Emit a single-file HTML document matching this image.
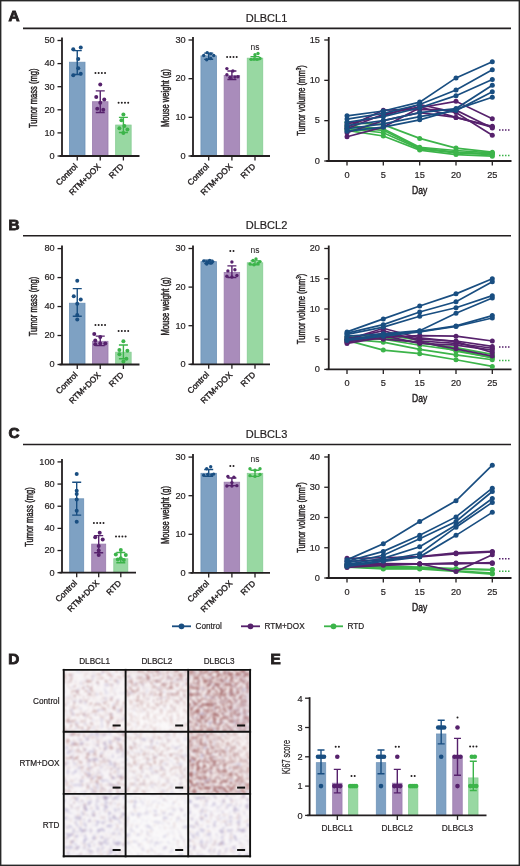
<!DOCTYPE html>
<html><head><meta charset="utf-8"><style>
html,body{margin:0;padding:0;background:#fff;width:520px;height:866px;overflow:hidden}
svg{display:block;filter:blur(0.45px)}
</style></head><body>
<svg width="520" height="866" viewBox="0 0 520 866" font-family='"Liberation Sans", sans-serif' fill="#231f20">
<style>text{stroke:#231f20;stroke-width:0.2}</style>
<rect x="0" y="0" width="520" height="866" fill="#fff"/>
<text x="8.5" y="21.20" font-size="15.3" font-weight="bold" stroke="#231f20" style="stroke-width:0.9">A</text>
<line x1="23" y1="28.3" x2="511" y2="28.3" stroke="#231f20" stroke-width="1.7"/>
<text x="266.50" y="21.50" font-size="11" text-anchor="middle" >DLBCL1</text>
<rect x="69.50" y="62.21" width="15.5" height="93.79" fill="#7ea1c3" stroke="#6d92b7" stroke-width="0.8"/>
<path d="M72.75 50.66h9M77.25 50.66V74.46M72.75 74.46h9" stroke="#194e81" stroke-width="1.4" fill="none"/>
<circle cx="73.25" cy="49.28" r="2.0" fill="#194e81"/>
<circle cx="80.75" cy="47.43" r="2.0" fill="#194e81"/>
<circle cx="78.25" cy="58.98" r="2.0" fill="#194e81"/>
<circle cx="78.25" cy="68.22" r="2.0" fill="#194e81"/>
<circle cx="73.25" cy="75.15" r="2.0" fill="#194e81"/>
<circle cx="80.75" cy="73.76" r="2.0" fill="#194e81"/>
<rect x="92.50" y="101.72" width="15.5" height="54.28" fill="#a98cbb" stroke="#9a7cad" stroke-width="0.8"/>
<path d="M95.75 90.86h9M100.25 90.86V112.57M95.75 112.57h9" stroke="#56216c" stroke-width="1.4" fill="none"/>
<circle cx="100.25" cy="84.39" r="2.0" fill="#56216c"/>
<circle cx="96.25" cy="97.09" r="2.0" fill="#56216c"/>
<circle cx="104.25" cy="99.41" r="2.0" fill="#56216c"/>
<circle cx="97.25" cy="108.64" r="2.0" fill="#56216c"/>
<circle cx="103.25" cy="109.80" r="2.0" fill="#56216c"/>
<circle cx="100.25" cy="102.87" r="2.0" fill="#56216c"/>
<rect x="115.65" y="125.05" width="15.5" height="30.95" fill="#98d8a2" stroke="#86cc92" stroke-width="0.8"/>
<path d="M118.90 117.42h9M123.40 117.42V132.44M118.90 132.44h9" stroke="#3cb44a" stroke-width="1.4" fill="none"/>
<circle cx="123.40" cy="114.42" r="2.0" fill="#3cb44a"/>
<circle cx="121.40" cy="120.19" r="2.0" fill="#3cb44a"/>
<circle cx="119.40" cy="128.28" r="2.0" fill="#3cb44a"/>
<circle cx="127.40" cy="129.44" r="2.0" fill="#3cb44a"/>
<circle cx="123.40" cy="132.90" r="2.0" fill="#3cb44a"/>
<circle cx="124.40" cy="125.97" r="2.0" fill="#3cb44a"/>
<line x1="62" y1="37.5" x2="62" y2="156" stroke="#231f20" stroke-width="1.8"/>
<line x1="57.5" y1="156.00" x2="62" y2="156.00" stroke="#231f20" stroke-width="1.3"/>
<text x="54.70" y="158.80" font-size="9.2" text-anchor="end" >0</text>
<line x1="57.5" y1="132.90" x2="62" y2="132.90" stroke="#231f20" stroke-width="1.3"/>
<text x="54.70" y="135.70" font-size="9.2" text-anchor="end" >10</text>
<line x1="57.5" y1="109.80" x2="62" y2="109.80" stroke="#231f20" stroke-width="1.3"/>
<text x="54.70" y="112.60" font-size="9.2" text-anchor="end" >20</text>
<line x1="57.5" y1="86.70" x2="62" y2="86.70" stroke="#231f20" stroke-width="1.3"/>
<text x="54.70" y="89.50" font-size="9.2" text-anchor="end" >30</text>
<line x1="57.5" y1="63.60" x2="62" y2="63.60" stroke="#231f20" stroke-width="1.3"/>
<text x="54.70" y="66.40" font-size="9.2" text-anchor="end" >40</text>
<line x1="57.5" y1="40.50" x2="62" y2="40.50" stroke="#231f20" stroke-width="1.3"/>
<text x="54.70" y="43.30" font-size="9.2" text-anchor="end" >50</text>
<g transform="translate(37.00,98.25) rotate(-90) scale(0.69,1)"><text x="0" y="0" font-size="11" text-anchor="middle" style="stroke-width:0.45">Tumor mass (mg)</text></g>
<line x1="59.5" y1="156" x2="139.5" y2="156" stroke="#231f20" stroke-width="1.8"/>
<line x1="77.25" y1="156" x2="77.25" y2="160.5" stroke="#231f20" stroke-width="1.3"/>
<g transform="translate(78.15,167.00) rotate(-45)"><text x="0" y="0" font-size="8.3" text-anchor="end" style="stroke-width:0.38">Control</text></g>
<line x1="100.25" y1="156" x2="100.25" y2="160.5" stroke="#231f20" stroke-width="1.3"/>
<g transform="translate(101.15,167.00) rotate(-45)"><text x="0" y="0" font-size="8.3" text-anchor="end" style="stroke-width:0.38">RTM+DOX</text></g>
<line x1="123.4" y1="156" x2="123.4" y2="160.5" stroke="#231f20" stroke-width="1.3"/>
<g transform="translate(124.30,167.00) rotate(-45)"><text x="0" y="0" font-size="8.3" text-anchor="end" style="stroke-width:0.38">RTD</text></g>
<path d="M95.45 72.90h0M98.65 72.90h0M101.85 72.90h0M105.05 72.90h0" stroke="#231f20" stroke-width="2.0" stroke-linecap="round" fill="none"/>
<path d="M118.60 102.70h0M121.80 102.70h0M125.00 102.70h0M128.20 102.70h0" stroke="#231f20" stroke-width="2.0" stroke-linecap="round" fill="none"/>
<rect x="200.95" y="55.85" width="15.5" height="100.15" fill="#7ea1c3" stroke="#6d92b7" stroke-width="0.8"/>
<path d="M204.20 53.15h9M208.70 53.15V59.33M204.20 59.33h9" stroke="#194e81" stroke-width="1.4" fill="none"/>
<circle cx="203.70" cy="55.47" r="1.7" fill="#194e81"/>
<circle cx="207.20" cy="52.76" r="1.7" fill="#194e81"/>
<circle cx="210.70" cy="53.92" r="1.7" fill="#194e81"/>
<circle cx="213.70" cy="55.47" r="1.7" fill="#194e81"/>
<circle cx="206.70" cy="59.72" r="1.7" fill="#194e81"/>
<circle cx="210.70" cy="58.56" r="1.7" fill="#194e81"/>
<rect x="224.15" y="75.57" width="15.5" height="80.43" fill="#a98cbb" stroke="#9a7cad" stroke-width="0.8"/>
<path d="M227.40 70.93h9M231.90 70.93V79.44M227.40 79.44h9" stroke="#56216c" stroke-width="1.4" fill="none"/>
<circle cx="226.90" cy="68.61" r="1.7" fill="#56216c"/>
<circle cx="232.90" cy="70.93" r="1.7" fill="#56216c"/>
<circle cx="226.90" cy="74.80" r="1.7" fill="#56216c"/>
<circle cx="229.90" cy="77.51" r="1.7" fill="#56216c"/>
<circle cx="234.90" cy="77.12" r="1.7" fill="#56216c"/>
<circle cx="237.90" cy="76.73" r="1.7" fill="#56216c"/>
<rect x="247.25" y="58.17" width="15.5" height="97.83" fill="#98d8a2" stroke="#86cc92" stroke-width="0.8"/>
<path d="M250.50 56.63h9M255.00 56.63V59.72M250.50 59.72h9" stroke="#3cb44a" stroke-width="1.4" fill="none"/>
<circle cx="251.00" cy="59.33" r="1.7" fill="#3cb44a"/>
<circle cx="255.00" cy="54.69" r="1.7" fill="#3cb44a"/>
<circle cx="258.00" cy="53.53" r="1.7" fill="#3cb44a"/>
<circle cx="260.00" cy="58.56" r="1.7" fill="#3cb44a"/>
<circle cx="254.00" cy="58.95" r="1.7" fill="#3cb44a"/>
<circle cx="257.00" cy="59.33" r="1.7" fill="#3cb44a"/>
<line x1="193.0" y1="37" x2="193.0" y2="156" stroke="#231f20" stroke-width="1.8"/>
<line x1="188.5" y1="156.00" x2="193.0" y2="156.00" stroke="#231f20" stroke-width="1.3"/>
<text x="185.70" y="158.80" font-size="9.2" text-anchor="end" >0</text>
<line x1="188.5" y1="117.33" x2="193.0" y2="117.33" stroke="#231f20" stroke-width="1.3"/>
<text x="185.70" y="120.13" font-size="9.2" text-anchor="end" >10</text>
<line x1="188.5" y1="78.67" x2="193.0" y2="78.67" stroke="#231f20" stroke-width="1.3"/>
<text x="185.70" y="81.47" font-size="9.2" text-anchor="end" >20</text>
<line x1="188.5" y1="40.00" x2="193.0" y2="40.00" stroke="#231f20" stroke-width="1.3"/>
<text x="185.70" y="42.80" font-size="9.2" text-anchor="end" >30</text>
<g transform="translate(169.00,98.00) rotate(-90) scale(0.69,1)"><text x="0" y="0" font-size="11" text-anchor="middle" style="stroke-width:0.45">Mouse weight (g)</text></g>
<line x1="190.5" y1="156" x2="270" y2="156" stroke="#231f20" stroke-width="1.8"/>
<line x1="208.7" y1="156" x2="208.7" y2="160.5" stroke="#231f20" stroke-width="1.3"/>
<g transform="translate(209.60,167.00) rotate(-45)"><text x="0" y="0" font-size="8.3" text-anchor="end" style="stroke-width:0.38">Control</text></g>
<line x1="231.9" y1="156" x2="231.9" y2="160.5" stroke="#231f20" stroke-width="1.3"/>
<g transform="translate(232.80,167.00) rotate(-45)"><text x="0" y="0" font-size="8.3" text-anchor="end" style="stroke-width:0.38">RTM+DOX</text></g>
<line x1="255.0" y1="156" x2="255.0" y2="160.5" stroke="#231f20" stroke-width="1.3"/>
<g transform="translate(255.90,167.00) rotate(-45)"><text x="0" y="0" font-size="8.3" text-anchor="end" style="stroke-width:0.38">RTD</text></g>
<path d="M227.10 56.90h0M230.30 56.90h0M233.50 56.90h0M236.70 56.90h0" stroke="#231f20" stroke-width="2.0" stroke-linecap="round" fill="none"/>
<text x="255.00" y="49.50" font-size="8.5" text-anchor="middle" style="stroke-width:0.05">ns</text>
<line x1="328.75" y1="37" x2="328.75" y2="161" stroke="#231f20" stroke-width="1.8"/>
<line x1="324.25" y1="161.00" x2="328.75" y2="161.00" stroke="#231f20" stroke-width="1.3"/>
<text x="319.95" y="163.80" font-size="9.2" text-anchor="end" >0</text>
<line x1="324.25" y1="120.67" x2="328.75" y2="120.67" stroke="#231f20" stroke-width="1.3"/>
<text x="319.95" y="123.47" font-size="9.2" text-anchor="end" >5</text>
<line x1="324.25" y1="80.33" x2="328.75" y2="80.33" stroke="#231f20" stroke-width="1.3"/>
<text x="319.95" y="83.13" font-size="9.2" text-anchor="end" >10</text>
<line x1="324.25" y1="40.00" x2="328.75" y2="40.00" stroke="#231f20" stroke-width="1.3"/>
<text x="319.95" y="42.80" font-size="9.2" text-anchor="end" >15</text>
<g transform="translate(305.25,100.50) rotate(-90) scale(0.69,1)"><text x="0" y="0" font-size="11" text-anchor="middle" style="stroke-width:0.45">Tumor volume (mm<tspan font-size="6.5" dy="-4">3</tspan><tspan dy="4">)</tspan></text></g>
<line x1="326.25" y1="161" x2="511.5" y2="161" stroke="#231f20" stroke-width="1.8"/>
<line x1="347" y1="161" x2="347" y2="165.5" stroke="#231f20" stroke-width="1.3"/>
<text x="347.00" y="177.50" font-size="9.2" text-anchor="middle" >0</text>
<line x1="383.3" y1="161" x2="383.3" y2="165.5" stroke="#231f20" stroke-width="1.3"/>
<text x="383.30" y="177.50" font-size="9.2" text-anchor="middle" >5</text>
<line x1="419.7" y1="161" x2="419.7" y2="165.5" stroke="#231f20" stroke-width="1.3"/>
<text x="419.70" y="177.50" font-size="9.2" text-anchor="middle" >15</text>
<line x1="456" y1="161" x2="456" y2="165.5" stroke="#231f20" stroke-width="1.3"/>
<text x="456.00" y="177.50" font-size="9.2" text-anchor="middle" >20</text>
<line x1="492.3" y1="161" x2="492.3" y2="165.5" stroke="#231f20" stroke-width="1.3"/>
<text x="492.30" y="177.50" font-size="9.2" text-anchor="middle" >25</text>
<g transform="translate(419.7,194.00) scale(0.78,1)"><text x="0" y="0" font-size="11" text-anchor="middle" style="stroke-width:0.45">Day</text></g>
<polyline points="347.00,122.28 383.30,124.70 419.70,138.41 456.00,148.09 492.30,152.13" fill="none" stroke="#3cb44a" stroke-width="1.7"/>
<circle cx="347.00" cy="122.28" r="2.5" fill="#3cb44a"/>
<circle cx="383.30" cy="124.70" r="2.5" fill="#3cb44a"/>
<circle cx="419.70" cy="138.41" r="2.5" fill="#3cb44a"/>
<circle cx="456.00" cy="148.09" r="2.5" fill="#3cb44a"/>
<circle cx="492.30" cy="152.13" r="2.5" fill="#3cb44a"/>
<polyline points="347.00,125.51 383.30,128.73 419.70,147.29 456.00,150.51 492.30,152.93" fill="none" stroke="#3cb44a" stroke-width="1.7"/>
<circle cx="347.00" cy="125.51" r="2.5" fill="#3cb44a"/>
<circle cx="383.30" cy="128.73" r="2.5" fill="#3cb44a"/>
<circle cx="419.70" cy="147.29" r="2.5" fill="#3cb44a"/>
<circle cx="456.00" cy="150.51" r="2.5" fill="#3cb44a"/>
<circle cx="492.30" cy="152.93" r="2.5" fill="#3cb44a"/>
<polyline points="347.00,128.73 383.30,132.77 419.70,148.90 456.00,152.93 492.30,154.55" fill="none" stroke="#3cb44a" stroke-width="1.7"/>
<circle cx="347.00" cy="128.73" r="2.5" fill="#3cb44a"/>
<circle cx="383.30" cy="132.77" r="2.5" fill="#3cb44a"/>
<circle cx="419.70" cy="148.90" r="2.5" fill="#3cb44a"/>
<circle cx="456.00" cy="152.93" r="2.5" fill="#3cb44a"/>
<circle cx="492.30" cy="154.55" r="2.5" fill="#3cb44a"/>
<polyline points="347.00,130.35 383.30,135.99 419.70,150.11 456.00,154.55 492.30,156.16" fill="none" stroke="#3cb44a" stroke-width="1.7"/>
<circle cx="347.00" cy="130.35" r="2.5" fill="#3cb44a"/>
<circle cx="383.30" cy="135.99" r="2.5" fill="#3cb44a"/>
<circle cx="419.70" cy="150.11" r="2.5" fill="#3cb44a"/>
<circle cx="456.00" cy="154.55" r="2.5" fill="#3cb44a"/>
<circle cx="492.30" cy="156.16" r="2.5" fill="#3cb44a"/>
<polyline points="347.00,127.12 383.30,130.35 419.70,148.09 456.00,152.13 492.30,153.74" fill="none" stroke="#3cb44a" stroke-width="1.7"/>
<circle cx="347.00" cy="127.12" r="2.5" fill="#3cb44a"/>
<circle cx="383.30" cy="130.35" r="2.5" fill="#3cb44a"/>
<circle cx="419.70" cy="148.09" r="2.5" fill="#3cb44a"/>
<circle cx="456.00" cy="152.13" r="2.5" fill="#3cb44a"/>
<circle cx="492.30" cy="153.74" r="2.5" fill="#3cb44a"/>
<polyline points="347.00,136.80 383.30,127.12 419.70,107.76 456.00,101.31 492.30,118.65" fill="none" stroke="#56216c" stroke-width="1.7"/>
<circle cx="347.00" cy="136.80" r="2.5" fill="#56216c"/>
<circle cx="383.30" cy="127.12" r="2.5" fill="#56216c"/>
<circle cx="419.70" cy="107.76" r="2.5" fill="#56216c"/>
<circle cx="456.00" cy="101.31" r="2.5" fill="#56216c"/>
<circle cx="492.30" cy="118.65" r="2.5" fill="#56216c"/>
<polyline points="347.00,132.77 383.30,120.67 419.70,112.60 456.00,117.44 492.30,126.31" fill="none" stroke="#56216c" stroke-width="1.7"/>
<circle cx="347.00" cy="132.77" r="2.5" fill="#56216c"/>
<circle cx="383.30" cy="120.67" r="2.5" fill="#56216c"/>
<circle cx="419.70" cy="112.60" r="2.5" fill="#56216c"/>
<circle cx="456.00" cy="117.44" r="2.5" fill="#56216c"/>
<circle cx="492.30" cy="126.31" r="2.5" fill="#56216c"/>
<polyline points="347.00,127.12 383.30,110.18 419.70,109.37 456.00,110.18 492.30,127.93" fill="none" stroke="#56216c" stroke-width="1.7"/>
<circle cx="347.00" cy="127.12" r="2.5" fill="#56216c"/>
<circle cx="383.30" cy="110.18" r="2.5" fill="#56216c"/>
<circle cx="419.70" cy="109.37" r="2.5" fill="#56216c"/>
<circle cx="456.00" cy="110.18" r="2.5" fill="#56216c"/>
<circle cx="492.30" cy="127.93" r="2.5" fill="#56216c"/>
<polyline points="347.00,123.89 383.30,115.83 419.70,104.53 456.00,112.60 492.30,135.19" fill="none" stroke="#56216c" stroke-width="1.7"/>
<circle cx="347.00" cy="123.89" r="2.5" fill="#56216c"/>
<circle cx="383.30" cy="115.83" r="2.5" fill="#56216c"/>
<circle cx="419.70" cy="104.53" r="2.5" fill="#56216c"/>
<circle cx="456.00" cy="112.60" r="2.5" fill="#56216c"/>
<circle cx="492.30" cy="135.19" r="2.5" fill="#56216c"/>
<polyline points="347.00,128.73 383.30,114.21 419.70,106.95 456.00,117.44 492.30,127.12" fill="none" stroke="#56216c" stroke-width="1.7"/>
<circle cx="347.00" cy="128.73" r="2.5" fill="#56216c"/>
<circle cx="383.30" cy="114.21" r="2.5" fill="#56216c"/>
<circle cx="419.70" cy="106.95" r="2.5" fill="#56216c"/>
<circle cx="456.00" cy="117.44" r="2.5" fill="#56216c"/>
<circle cx="492.30" cy="127.12" r="2.5" fill="#56216c"/>
<polyline points="347.00,115.83 383.30,110.99 419.70,102.11 456.00,77.91 492.30,61.78" fill="none" stroke="#194e81" stroke-width="1.7"/>
<circle cx="347.00" cy="115.83" r="2.5" fill="#194e81"/>
<circle cx="383.30" cy="110.99" r="2.5" fill="#194e81"/>
<circle cx="419.70" cy="102.11" r="2.5" fill="#194e81"/>
<circle cx="456.00" cy="77.91" r="2.5" fill="#194e81"/>
<circle cx="492.30" cy="61.78" r="2.5" fill="#194e81"/>
<polyline points="347.00,119.05 383.30,113.41 419.70,104.53 456.00,90.01 492.30,69.85" fill="none" stroke="#194e81" stroke-width="1.7"/>
<circle cx="347.00" cy="119.05" r="2.5" fill="#194e81"/>
<circle cx="383.30" cy="113.41" r="2.5" fill="#194e81"/>
<circle cx="419.70" cy="104.53" r="2.5" fill="#194e81"/>
<circle cx="456.00" cy="90.01" r="2.5" fill="#194e81"/>
<circle cx="492.30" cy="69.85" r="2.5" fill="#194e81"/>
<polyline points="347.00,122.28 383.30,116.63 419.70,107.76 456.00,95.66 492.30,79.53" fill="none" stroke="#194e81" stroke-width="1.7"/>
<circle cx="347.00" cy="122.28" r="2.5" fill="#194e81"/>
<circle cx="383.30" cy="116.63" r="2.5" fill="#194e81"/>
<circle cx="419.70" cy="107.76" r="2.5" fill="#194e81"/>
<circle cx="456.00" cy="95.66" r="2.5" fill="#194e81"/>
<circle cx="492.30" cy="79.53" r="2.5" fill="#194e81"/>
<polyline points="347.00,125.51 383.30,120.67 419.70,112.60 456.00,108.57 492.30,85.17" fill="none" stroke="#194e81" stroke-width="1.7"/>
<circle cx="347.00" cy="125.51" r="2.5" fill="#194e81"/>
<circle cx="383.30" cy="120.67" r="2.5" fill="#194e81"/>
<circle cx="419.70" cy="112.60" r="2.5" fill="#194e81"/>
<circle cx="456.00" cy="108.57" r="2.5" fill="#194e81"/>
<circle cx="492.30" cy="85.17" r="2.5" fill="#194e81"/>
<polyline points="347.00,128.73 383.30,123.89 419.70,116.63 456.00,110.58 492.30,91.63" fill="none" stroke="#194e81" stroke-width="1.7"/>
<circle cx="347.00" cy="128.73" r="2.5" fill="#194e81"/>
<circle cx="383.30" cy="123.89" r="2.5" fill="#194e81"/>
<circle cx="419.70" cy="116.63" r="2.5" fill="#194e81"/>
<circle cx="456.00" cy="110.58" r="2.5" fill="#194e81"/>
<circle cx="492.30" cy="91.63" r="2.5" fill="#194e81"/>
<polyline points="347.00,131.15 383.30,127.12 419.70,119.86 456.00,109.37 492.30,97.27" fill="none" stroke="#194e81" stroke-width="1.7"/>
<circle cx="347.00" cy="131.15" r="2.5" fill="#194e81"/>
<circle cx="383.30" cy="127.12" r="2.5" fill="#194e81"/>
<circle cx="419.70" cy="119.86" r="2.5" fill="#194e81"/>
<circle cx="456.00" cy="109.37" r="2.5" fill="#194e81"/>
<circle cx="492.30" cy="97.27" r="2.5" fill="#194e81"/>
<path d="M499 130h11.5" stroke="#56216c" stroke-width="1.5" stroke-dasharray="1.5,1.5" fill="none"/><path d="M499 155.6h11.5" stroke="#3cb44a" stroke-width="1.5" stroke-dasharray="1.5,1.5" fill="none"/>
<text x="8.5" y="230.10" font-size="15.3" font-weight="bold" stroke="#231f20" style="stroke-width:0.9">B</text>
<line x1="23" y1="235.75" x2="511" y2="235.75" stroke="#231f20" stroke-width="1.7"/>
<text x="266.50" y="228.95" font-size="11" text-anchor="middle" >DLBCL2</text>
<rect x="69.50" y="303.22" width="15.5" height="61.28" fill="#7ea1c3" stroke="#6d92b7" stroke-width="0.8"/>
<path d="M72.75 288.59h9M77.25 288.59V316.26M72.75 316.26h9" stroke="#194e81" stroke-width="1.4" fill="none"/>
<circle cx="77.25" cy="280.76" r="2.0" fill="#194e81"/>
<circle cx="73.75" cy="296.26" r="2.0" fill="#194e81"/>
<circle cx="80.75" cy="299.45" r="2.0" fill="#194e81"/>
<circle cx="77.25" cy="303.80" r="2.0" fill="#194e81"/>
<circle cx="77.25" cy="315.10" r="2.0" fill="#194e81"/>
<circle cx="77.25" cy="319.59" r="2.0" fill="#194e81"/>
<rect x="92.50" y="341.32" width="15.5" height="23.18" fill="#a98cbb" stroke="#9a7cad" stroke-width="0.8"/>
<path d="M95.75 336.10h9M100.25 336.10V345.67M95.75 345.67h9" stroke="#56216c" stroke-width="1.4" fill="none"/>
<circle cx="94.25" cy="334.08" r="2.0" fill="#56216c"/>
<circle cx="100.25" cy="336.97" r="2.0" fill="#56216c"/>
<circle cx="95.25" cy="340.60" r="2.0" fill="#56216c"/>
<circle cx="95.25" cy="344.22" r="2.0" fill="#56216c"/>
<circle cx="100.25" cy="343.49" r="2.0" fill="#56216c"/>
<circle cx="105.25" cy="343.49" r="2.0" fill="#56216c"/>
<rect x="115.65" y="352.19" width="15.5" height="12.31" fill="#98d8a2" stroke="#86cc92" stroke-width="0.8"/>
<path d="M118.90 344.94h9M123.40 344.94V358.70M118.90 358.70h9" stroke="#3cb44a" stroke-width="1.4" fill="none"/>
<circle cx="123.40" cy="341.32" r="2.0" fill="#3cb44a"/>
<circle cx="119.40" cy="350.01" r="2.0" fill="#3cb44a"/>
<circle cx="127.40" cy="350.74" r="2.0" fill="#3cb44a"/>
<circle cx="119.40" cy="354.36" r="2.0" fill="#3cb44a"/>
<circle cx="126.40" cy="358.70" r="2.0" fill="#3cb44a"/>
<circle cx="123.40" cy="361.60" r="2.0" fill="#3cb44a"/>
<line x1="62" y1="245.6" x2="62" y2="364.5" stroke="#231f20" stroke-width="1.8"/>
<line x1="57.5" y1="364.50" x2="62" y2="364.50" stroke="#231f20" stroke-width="1.3"/>
<text x="54.70" y="367.30" font-size="9.2" text-anchor="end" >0</text>
<line x1="57.5" y1="335.52" x2="62" y2="335.52" stroke="#231f20" stroke-width="1.3"/>
<text x="54.70" y="338.32" font-size="9.2" text-anchor="end" >20</text>
<line x1="57.5" y1="306.55" x2="62" y2="306.55" stroke="#231f20" stroke-width="1.3"/>
<text x="54.70" y="309.35" font-size="9.2" text-anchor="end" >40</text>
<line x1="57.5" y1="277.57" x2="62" y2="277.57" stroke="#231f20" stroke-width="1.3"/>
<text x="54.70" y="280.38" font-size="9.2" text-anchor="end" >60</text>
<line x1="57.5" y1="248.60" x2="62" y2="248.60" stroke="#231f20" stroke-width="1.3"/>
<text x="54.70" y="251.40" font-size="9.2" text-anchor="end" >80</text>
<g transform="translate(37.00,306.55) rotate(-90) scale(0.69,1)"><text x="0" y="0" font-size="11" text-anchor="middle" style="stroke-width:0.45">Tumor mass (mg)</text></g>
<line x1="59.5" y1="364.5" x2="139.5" y2="364.5" stroke="#231f20" stroke-width="1.8"/>
<line x1="77.25" y1="364.5" x2="77.25" y2="369.0" stroke="#231f20" stroke-width="1.3"/>
<g transform="translate(78.15,375.50) rotate(-45)"><text x="0" y="0" font-size="8.3" text-anchor="end" style="stroke-width:0.38">Control</text></g>
<line x1="100.25" y1="364.5" x2="100.25" y2="369.0" stroke="#231f20" stroke-width="1.3"/>
<g transform="translate(101.15,375.50) rotate(-45)"><text x="0" y="0" font-size="8.3" text-anchor="end" style="stroke-width:0.38">RTM+DOX</text></g>
<line x1="123.4" y1="364.5" x2="123.4" y2="369.0" stroke="#231f20" stroke-width="1.3"/>
<g transform="translate(124.30,375.50) rotate(-45)"><text x="0" y="0" font-size="8.3" text-anchor="end" style="stroke-width:0.38">RTD</text></g>
<path d="M95.45 325.00h0M98.65 325.00h0M101.85 325.00h0M105.05 325.00h0" stroke="#231f20" stroke-width="2.0" stroke-linecap="round" fill="none"/>
<path d="M118.60 330.90h0M121.80 330.90h0M125.00 330.90h0M128.20 330.90h0" stroke="#231f20" stroke-width="2.0" stroke-linecap="round" fill="none"/>
<rect x="200.95" y="261.62" width="15.5" height="102.68" fill="#7ea1c3" stroke="#6d92b7" stroke-width="0.8"/>
<path d="M204.20 260.08h9M208.70 260.08V263.55M204.20 263.55h9" stroke="#194e81" stroke-width="1.4" fill="none"/>
<circle cx="203.70" cy="260.85" r="1.7" fill="#194e81"/>
<circle cx="206.70" cy="262.01" r="1.7" fill="#194e81"/>
<circle cx="209.70" cy="260.47" r="1.7" fill="#194e81"/>
<circle cx="212.70" cy="261.62" r="1.7" fill="#194e81"/>
<circle cx="206.70" cy="263.94" r="1.7" fill="#194e81"/>
<circle cx="210.70" cy="263.17" r="1.7" fill="#194e81"/>
<rect x="224.15" y="272.43" width="15.5" height="91.87" fill="#a98cbb" stroke="#9a7cad" stroke-width="0.8"/>
<path d="M227.40 265.87h9M231.90 265.87V277.45M227.40 277.45h9" stroke="#56216c" stroke-width="1.4" fill="none"/>
<circle cx="231.90" cy="262.01" r="1.7" fill="#56216c"/>
<circle cx="227.90" cy="270.89" r="1.7" fill="#56216c"/>
<circle cx="234.90" cy="269.73" r="1.7" fill="#56216c"/>
<circle cx="226.90" cy="276.29" r="1.7" fill="#56216c"/>
<circle cx="231.90" cy="277.06" r="1.7" fill="#56216c"/>
<circle cx="236.90" cy="275.52" r="1.7" fill="#56216c"/>
<rect x="247.25" y="262.78" width="15.5" height="101.52" fill="#98d8a2" stroke="#86cc92" stroke-width="0.8"/>
<path d="M250.50 260.85h9M255.00 260.85V264.71M250.50 264.71h9" stroke="#3cb44a" stroke-width="1.4" fill="none"/>
<circle cx="250.00" cy="263.94" r="1.7" fill="#3cb44a"/>
<circle cx="253.00" cy="260.47" r="1.7" fill="#3cb44a"/>
<circle cx="256.00" cy="258.92" r="1.7" fill="#3cb44a"/>
<circle cx="260.00" cy="261.62" r="1.7" fill="#3cb44a"/>
<circle cx="254.00" cy="264.71" r="1.7" fill="#3cb44a"/>
<circle cx="258.00" cy="263.55" r="1.7" fill="#3cb44a"/>
<line x1="193.0" y1="245.5" x2="193.0" y2="364.3" stroke="#231f20" stroke-width="1.8"/>
<line x1="188.5" y1="364.30" x2="193.0" y2="364.30" stroke="#231f20" stroke-width="1.3"/>
<text x="185.70" y="367.10" font-size="9.2" text-anchor="end" >0</text>
<line x1="188.5" y1="325.70" x2="193.0" y2="325.70" stroke="#231f20" stroke-width="1.3"/>
<text x="185.70" y="328.50" font-size="9.2" text-anchor="end" >10</text>
<line x1="188.5" y1="287.10" x2="193.0" y2="287.10" stroke="#231f20" stroke-width="1.3"/>
<text x="185.70" y="289.90" font-size="9.2" text-anchor="end" >20</text>
<line x1="188.5" y1="248.50" x2="193.0" y2="248.50" stroke="#231f20" stroke-width="1.3"/>
<text x="185.70" y="251.30" font-size="9.2" text-anchor="end" >30</text>
<g transform="translate(169.00,306.40) rotate(-90) scale(0.69,1)"><text x="0" y="0" font-size="11" text-anchor="middle" style="stroke-width:0.45">Mouse weight (g)</text></g>
<line x1="190.5" y1="364.3" x2="270" y2="364.3" stroke="#231f20" stroke-width="1.8"/>
<line x1="208.7" y1="364.3" x2="208.7" y2="368.8" stroke="#231f20" stroke-width="1.3"/>
<g transform="translate(209.60,375.30) rotate(-45)"><text x="0" y="0" font-size="8.3" text-anchor="end" style="stroke-width:0.38">Control</text></g>
<line x1="231.9" y1="364.3" x2="231.9" y2="368.8" stroke="#231f20" stroke-width="1.3"/>
<g transform="translate(232.80,375.30) rotate(-45)"><text x="0" y="0" font-size="8.3" text-anchor="end" style="stroke-width:0.38">RTM+DOX</text></g>
<line x1="255.0" y1="364.3" x2="255.0" y2="368.8" stroke="#231f20" stroke-width="1.3"/>
<g transform="translate(255.90,375.30) rotate(-45)"><text x="0" y="0" font-size="8.3" text-anchor="end" style="stroke-width:0.38">RTD</text></g>
<path d="M230.30 250.90h0M233.50 250.90h0" stroke="#231f20" stroke-width="2.0" stroke-linecap="round" fill="none"/>
<text x="255.00" y="253.00" font-size="8.5" text-anchor="middle" style="stroke-width:0.05">ns</text>
<line x1="328.75" y1="245.5" x2="328.75" y2="369.4" stroke="#231f20" stroke-width="1.8"/>
<line x1="324.25" y1="369.40" x2="328.75" y2="369.40" stroke="#231f20" stroke-width="1.3"/>
<text x="319.95" y="372.20" font-size="9.2" text-anchor="end" >0</text>
<line x1="324.25" y1="339.17" x2="328.75" y2="339.17" stroke="#231f20" stroke-width="1.3"/>
<text x="319.95" y="341.97" font-size="9.2" text-anchor="end" >5</text>
<line x1="324.25" y1="308.95" x2="328.75" y2="308.95" stroke="#231f20" stroke-width="1.3"/>
<text x="319.95" y="311.75" font-size="9.2" text-anchor="end" >10</text>
<line x1="324.25" y1="278.73" x2="328.75" y2="278.73" stroke="#231f20" stroke-width="1.3"/>
<text x="319.95" y="281.53" font-size="9.2" text-anchor="end" >15</text>
<line x1="324.25" y1="248.50" x2="328.75" y2="248.50" stroke="#231f20" stroke-width="1.3"/>
<text x="319.95" y="251.30" font-size="9.2" text-anchor="end" >20</text>
<g transform="translate(305.25,308.95) rotate(-90) scale(0.69,1)"><text x="0" y="0" font-size="11" text-anchor="middle" style="stroke-width:0.45">Tumor volume (mm<tspan font-size="6.5" dy="-4">3</tspan><tspan dy="4">)</tspan></text></g>
<line x1="326.25" y1="369.4" x2="511.5" y2="369.4" stroke="#231f20" stroke-width="1.8"/>
<line x1="347" y1="369.4" x2="347" y2="373.9" stroke="#231f20" stroke-width="1.3"/>
<text x="347.00" y="385.90" font-size="9.2" text-anchor="middle" >0</text>
<line x1="383.3" y1="369.4" x2="383.3" y2="373.9" stroke="#231f20" stroke-width="1.3"/>
<text x="383.30" y="385.90" font-size="9.2" text-anchor="middle" >5</text>
<line x1="419.7" y1="369.4" x2="419.7" y2="373.9" stroke="#231f20" stroke-width="1.3"/>
<text x="419.70" y="385.90" font-size="9.2" text-anchor="middle" >15</text>
<line x1="456" y1="369.4" x2="456" y2="373.9" stroke="#231f20" stroke-width="1.3"/>
<text x="456.00" y="385.90" font-size="9.2" text-anchor="middle" >20</text>
<line x1="492.3" y1="369.4" x2="492.3" y2="373.9" stroke="#231f20" stroke-width="1.3"/>
<text x="492.30" y="385.90" font-size="9.2" text-anchor="middle" >25</text>
<g transform="translate(419.7,402.40) scale(0.78,1)"><text x="0" y="0" font-size="11" text-anchor="middle" style="stroke-width:0.45">Day</text></g>
<polyline points="347.00,340.38 383.30,350.06 419.70,353.68 456.00,359.73 492.30,366.38" fill="none" stroke="#3cb44a" stroke-width="1.7"/>
<circle cx="347.00" cy="340.38" r="2.5" fill="#3cb44a"/>
<circle cx="383.30" cy="350.06" r="2.5" fill="#3cb44a"/>
<circle cx="419.70" cy="353.68" r="2.5" fill="#3cb44a"/>
<circle cx="456.00" cy="359.73" r="2.5" fill="#3cb44a"/>
<circle cx="492.30" cy="366.38" r="2.5" fill="#3cb44a"/>
<polyline points="347.00,339.17 383.30,342.20 419.70,349.45 456.00,354.89 492.30,359.73" fill="none" stroke="#3cb44a" stroke-width="1.7"/>
<circle cx="347.00" cy="339.17" r="2.5" fill="#3cb44a"/>
<circle cx="383.30" cy="342.20" r="2.5" fill="#3cb44a"/>
<circle cx="419.70" cy="349.45" r="2.5" fill="#3cb44a"/>
<circle cx="456.00" cy="354.89" r="2.5" fill="#3cb44a"/>
<circle cx="492.30" cy="359.73" r="2.5" fill="#3cb44a"/>
<polyline points="347.00,337.97 383.30,339.17 419.70,345.22 456.00,350.06 492.30,357.91" fill="none" stroke="#3cb44a" stroke-width="1.7"/>
<circle cx="347.00" cy="337.97" r="2.5" fill="#3cb44a"/>
<circle cx="383.30" cy="339.17" r="2.5" fill="#3cb44a"/>
<circle cx="419.70" cy="345.22" r="2.5" fill="#3cb44a"/>
<circle cx="456.00" cy="350.06" r="2.5" fill="#3cb44a"/>
<circle cx="492.30" cy="357.91" r="2.5" fill="#3cb44a"/>
<polyline points="347.00,341.59 383.30,337.36 419.70,342.80 456.00,347.64 492.30,354.29" fill="none" stroke="#3cb44a" stroke-width="1.7"/>
<circle cx="347.00" cy="341.59" r="2.5" fill="#3cb44a"/>
<circle cx="383.30" cy="337.36" r="2.5" fill="#3cb44a"/>
<circle cx="419.70" cy="342.80" r="2.5" fill="#3cb44a"/>
<circle cx="456.00" cy="347.64" r="2.5" fill="#3cb44a"/>
<circle cx="492.30" cy="354.29" r="2.5" fill="#3cb44a"/>
<polyline points="347.00,336.76 383.30,334.34 419.70,340.38 456.00,351.26 492.30,357.31" fill="none" stroke="#3cb44a" stroke-width="1.7"/>
<circle cx="347.00" cy="336.76" r="2.5" fill="#3cb44a"/>
<circle cx="383.30" cy="334.34" r="2.5" fill="#3cb44a"/>
<circle cx="419.70" cy="340.38" r="2.5" fill="#3cb44a"/>
<circle cx="456.00" cy="351.26" r="2.5" fill="#3cb44a"/>
<circle cx="492.30" cy="357.31" r="2.5" fill="#3cb44a"/>
<polyline points="347.00,343.41 383.30,337.36 419.70,335.55 456.00,336.15 492.30,340.99" fill="none" stroke="#56216c" stroke-width="1.7"/>
<circle cx="347.00" cy="343.41" r="2.5" fill="#56216c"/>
<circle cx="383.30" cy="337.36" r="2.5" fill="#56216c"/>
<circle cx="419.70" cy="335.55" r="2.5" fill="#56216c"/>
<circle cx="456.00" cy="336.15" r="2.5" fill="#56216c"/>
<circle cx="492.30" cy="340.99" r="2.5" fill="#56216c"/>
<polyline points="347.00,341.59 383.30,333.13 419.70,339.17 456.00,340.99 492.30,346.43" fill="none" stroke="#56216c" stroke-width="1.7"/>
<circle cx="347.00" cy="341.59" r="2.5" fill="#56216c"/>
<circle cx="383.30" cy="333.13" r="2.5" fill="#56216c"/>
<circle cx="419.70" cy="339.17" r="2.5" fill="#56216c"/>
<circle cx="456.00" cy="340.99" r="2.5" fill="#56216c"/>
<circle cx="492.30" cy="346.43" r="2.5" fill="#56216c"/>
<polyline points="347.00,339.17 383.30,330.71 419.70,340.99 456.00,343.41 492.30,348.24" fill="none" stroke="#56216c" stroke-width="1.7"/>
<circle cx="347.00" cy="339.17" r="2.5" fill="#56216c"/>
<circle cx="383.30" cy="330.71" r="2.5" fill="#56216c"/>
<circle cx="419.70" cy="340.99" r="2.5" fill="#56216c"/>
<circle cx="456.00" cy="343.41" r="2.5" fill="#56216c"/>
<circle cx="492.30" cy="348.24" r="2.5" fill="#56216c"/>
<polyline points="347.00,342.20 383.30,335.55 419.70,343.41 456.00,345.22 492.30,350.06" fill="none" stroke="#56216c" stroke-width="1.7"/>
<circle cx="347.00" cy="342.20" r="2.5" fill="#56216c"/>
<circle cx="383.30" cy="335.55" r="2.5" fill="#56216c"/>
<circle cx="419.70" cy="343.41" r="2.5" fill="#56216c"/>
<circle cx="456.00" cy="345.22" r="2.5" fill="#56216c"/>
<circle cx="492.30" cy="350.06" r="2.5" fill="#56216c"/>
<polyline points="347.00,337.36 383.30,339.17 419.70,342.20 456.00,348.85 492.30,356.10" fill="none" stroke="#56216c" stroke-width="1.7"/>
<circle cx="347.00" cy="337.36" r="2.5" fill="#56216c"/>
<circle cx="383.30" cy="339.17" r="2.5" fill="#56216c"/>
<circle cx="419.70" cy="342.20" r="2.5" fill="#56216c"/>
<circle cx="456.00" cy="348.85" r="2.5" fill="#56216c"/>
<circle cx="492.30" cy="356.10" r="2.5" fill="#56216c"/>
<polyline points="347.00,339.78 383.30,328.29 419.70,337.97 456.00,341.59 492.30,352.47" fill="none" stroke="#56216c" stroke-width="1.7"/>
<circle cx="347.00" cy="339.78" r="2.5" fill="#56216c"/>
<circle cx="383.30" cy="328.29" r="2.5" fill="#56216c"/>
<circle cx="419.70" cy="337.97" r="2.5" fill="#56216c"/>
<circle cx="456.00" cy="341.59" r="2.5" fill="#56216c"/>
<circle cx="492.30" cy="352.47" r="2.5" fill="#56216c"/>
<polyline points="347.00,331.92 383.30,318.92 419.70,305.93 456.00,293.84 492.30,278.73" fill="none" stroke="#194e81" stroke-width="1.7"/>
<circle cx="347.00" cy="331.92" r="2.5" fill="#194e81"/>
<circle cx="383.30" cy="318.92" r="2.5" fill="#194e81"/>
<circle cx="419.70" cy="305.93" r="2.5" fill="#194e81"/>
<circle cx="456.00" cy="293.84" r="2.5" fill="#194e81"/>
<circle cx="492.30" cy="278.73" r="2.5" fill="#194e81"/>
<polyline points="347.00,333.13 383.30,324.67 419.70,311.97 456.00,301.70 492.30,281.75" fill="none" stroke="#194e81" stroke-width="1.7"/>
<circle cx="347.00" cy="333.13" r="2.5" fill="#194e81"/>
<circle cx="383.30" cy="324.67" r="2.5" fill="#194e81"/>
<circle cx="419.70" cy="311.97" r="2.5" fill="#194e81"/>
<circle cx="456.00" cy="301.70" r="2.5" fill="#194e81"/>
<circle cx="492.30" cy="281.75" r="2.5" fill="#194e81"/>
<polyline points="347.00,334.34 383.30,327.08 419.70,316.20 456.00,307.74 492.30,295.65" fill="none" stroke="#194e81" stroke-width="1.7"/>
<circle cx="347.00" cy="334.34" r="2.5" fill="#194e81"/>
<circle cx="383.30" cy="327.08" r="2.5" fill="#194e81"/>
<circle cx="419.70" cy="316.20" r="2.5" fill="#194e81"/>
<circle cx="456.00" cy="307.74" r="2.5" fill="#194e81"/>
<circle cx="492.30" cy="295.65" r="2.5" fill="#194e81"/>
<polyline points="347.00,336.15 383.30,333.73 419.70,330.71 456.00,313.18 492.30,298.07" fill="none" stroke="#194e81" stroke-width="1.7"/>
<circle cx="347.00" cy="336.15" r="2.5" fill="#194e81"/>
<circle cx="383.30" cy="333.73" r="2.5" fill="#194e81"/>
<circle cx="419.70" cy="330.71" r="2.5" fill="#194e81"/>
<circle cx="456.00" cy="313.18" r="2.5" fill="#194e81"/>
<circle cx="492.30" cy="298.07" r="2.5" fill="#194e81"/>
<polyline points="347.00,339.17 383.30,334.94 419.70,331.32 456.00,325.88 492.30,315.60" fill="none" stroke="#194e81" stroke-width="1.7"/>
<circle cx="347.00" cy="339.17" r="2.5" fill="#194e81"/>
<circle cx="383.30" cy="334.94" r="2.5" fill="#194e81"/>
<circle cx="419.70" cy="331.32" r="2.5" fill="#194e81"/>
<circle cx="456.00" cy="325.88" r="2.5" fill="#194e81"/>
<circle cx="492.30" cy="315.60" r="2.5" fill="#194e81"/>
<polyline points="347.00,340.38 383.30,336.15 419.70,331.92 456.00,326.48 492.30,318.02" fill="none" stroke="#194e81" stroke-width="1.7"/>
<circle cx="347.00" cy="340.38" r="2.5" fill="#194e81"/>
<circle cx="383.30" cy="336.15" r="2.5" fill="#194e81"/>
<circle cx="419.70" cy="331.92" r="2.5" fill="#194e81"/>
<circle cx="456.00" cy="326.48" r="2.5" fill="#194e81"/>
<circle cx="492.30" cy="318.02" r="2.5" fill="#194e81"/>
<path d="M499 347h11.5" stroke="#56216c" stroke-width="1.5" stroke-dasharray="1.5,1.5" fill="none"/><path d="M499 360.6h11.5" stroke="#3cb44a" stroke-width="1.5" stroke-dasharray="1.5,1.5" fill="none"/>
<text x="8.5" y="438.40" font-size="15.3" font-weight="bold" stroke="#231f20" style="stroke-width:0.9">C</text>
<line x1="23" y1="444.5" x2="511" y2="444.5" stroke="#231f20" stroke-width="1.7"/>
<text x="266.50" y="437.70" font-size="11" text-anchor="middle" >DLBCL3</text>
<rect x="69.70" y="498.80" width="14" height="73.90" fill="#7ea1c3" stroke="#6d92b7" stroke-width="0.8"/>
<path d="M72.20 482.18h9M76.70 482.18V515.08M72.20 515.08h9" stroke="#194e81" stroke-width="1.4" fill="none"/>
<circle cx="76.70" cy="474.09" r="2.0" fill="#194e81"/>
<circle cx="76.70" cy="490.71" r="2.0" fill="#194e81"/>
<circle cx="76.70" cy="494.03" r="2.0" fill="#194e81"/>
<circle cx="76.70" cy="499.57" r="2.0" fill="#194e81"/>
<circle cx="76.70" cy="510.65" r="2.0" fill="#194e81"/>
<circle cx="76.70" cy="521.73" r="2.0" fill="#194e81"/>
<rect x="91.70" y="544.11" width="14" height="28.59" fill="#a98cbb" stroke="#9a7cad" stroke-width="0.8"/>
<path d="M94.20 535.58h9M98.70 535.58V552.76M94.20 552.76h9" stroke="#56216c" stroke-width="1.4" fill="none"/>
<circle cx="99.70" cy="532.81" r="2.0" fill="#56216c"/>
<circle cx="95.20" cy="537.24" r="2.0" fill="#56216c"/>
<circle cx="102.70" cy="539.46" r="2.0" fill="#56216c"/>
<circle cx="98.70" cy="546.11" r="2.0" fill="#56216c"/>
<circle cx="98.70" cy="550.54" r="2.0" fill="#56216c"/>
<circle cx="98.70" cy="554.97" r="2.0" fill="#56216c"/>
<rect x="113.80" y="558.74" width="14" height="13.96" fill="#98d8a2" stroke="#86cc92" stroke-width="0.8"/>
<path d="M116.30 552.53h9M120.80 552.53V562.73M116.30 562.73h9" stroke="#3cb44a" stroke-width="1.4" fill="none"/>
<circle cx="120.80" cy="549.99" r="2.0" fill="#3cb44a"/>
<circle cx="115.80" cy="554.42" r="2.0" fill="#3cb44a"/>
<circle cx="125.80" cy="554.97" r="2.0" fill="#3cb44a"/>
<circle cx="117.80" cy="559.40" r="2.0" fill="#3cb44a"/>
<circle cx="123.80" cy="559.96" r="2.0" fill="#3cb44a"/>
<circle cx="120.80" cy="558.30" r="2.0" fill="#3cb44a"/>
<line x1="62" y1="458.9" x2="62" y2="572.7" stroke="#231f20" stroke-width="1.8"/>
<line x1="57.5" y1="572.70" x2="62" y2="572.70" stroke="#231f20" stroke-width="1.3"/>
<text x="54.70" y="575.50" font-size="9.2" text-anchor="end" >0</text>
<line x1="57.5" y1="550.54" x2="62" y2="550.54" stroke="#231f20" stroke-width="1.3"/>
<text x="54.70" y="553.34" font-size="9.2" text-anchor="end" >20</text>
<line x1="57.5" y1="528.38" x2="62" y2="528.38" stroke="#231f20" stroke-width="1.3"/>
<text x="54.70" y="531.18" font-size="9.2" text-anchor="end" >40</text>
<line x1="57.5" y1="506.22" x2="62" y2="506.22" stroke="#231f20" stroke-width="1.3"/>
<text x="54.70" y="509.02" font-size="9.2" text-anchor="end" >60</text>
<line x1="57.5" y1="484.06" x2="62" y2="484.06" stroke="#231f20" stroke-width="1.3"/>
<text x="54.70" y="486.86" font-size="9.2" text-anchor="end" >80</text>
<line x1="57.5" y1="461.90" x2="62" y2="461.90" stroke="#231f20" stroke-width="1.3"/>
<text x="54.70" y="464.70" font-size="9.2" text-anchor="end" >100</text>
<g transform="translate(33.00,517.00) rotate(-90) scale(0.69,1)"><text x="0" y="0" font-size="11" text-anchor="middle" style="stroke-width:0.45">Tumor mass (mg)</text></g>
<line x1="59.5" y1="572.7" x2="136" y2="572.7" stroke="#231f20" stroke-width="1.8"/>
<line x1="76.7" y1="572.7" x2="76.7" y2="577.2" stroke="#231f20" stroke-width="1.3"/>
<g transform="translate(77.60,583.70) rotate(-45)"><text x="0" y="0" font-size="8.3" text-anchor="end" style="stroke-width:0.38">Control</text></g>
<line x1="98.7" y1="572.7" x2="98.7" y2="577.2" stroke="#231f20" stroke-width="1.3"/>
<g transform="translate(99.60,583.70) rotate(-45)"><text x="0" y="0" font-size="8.3" text-anchor="end" style="stroke-width:0.38">RTM+DOX</text></g>
<line x1="120.8" y1="572.7" x2="120.8" y2="577.2" stroke="#231f20" stroke-width="1.3"/>
<g transform="translate(121.70,583.70) rotate(-45)"><text x="0" y="0" font-size="8.3" text-anchor="end" style="stroke-width:0.38">RTD</text></g>
<path d="M93.90 522.90h0M97.10 522.90h0M100.30 522.90h0M103.50 522.90h0" stroke="#231f20" stroke-width="2.0" stroke-linecap="round" fill="none"/>
<path d="M116.00 536.40h0M119.20 536.40h0M122.40 536.40h0M125.60 536.40h0" stroke="#231f20" stroke-width="2.0" stroke-linecap="round" fill="none"/>
<rect x="200.95" y="473.31" width="15.5" height="99.59" fill="#7ea1c3" stroke="#6d92b7" stroke-width="0.8"/>
<path d="M204.20 469.45h9M208.70 469.45V476.40M204.20 476.40h9" stroke="#194e81" stroke-width="1.4" fill="none"/>
<circle cx="203.70" cy="475.24" r="1.7" fill="#194e81"/>
<circle cx="206.70" cy="468.68" r="1.7" fill="#194e81"/>
<circle cx="210.70" cy="466.75" r="1.7" fill="#194e81"/>
<circle cx="213.70" cy="474.08" r="1.7" fill="#194e81"/>
<circle cx="207.70" cy="474.47" r="1.7" fill="#194e81"/>
<circle cx="211.70" cy="474.86" r="1.7" fill="#194e81"/>
<rect x="224.15" y="482.19" width="15.5" height="90.71" fill="#a98cbb" stroke="#9a7cad" stroke-width="0.8"/>
<path d="M227.40 477.94h9M231.90 477.94V485.66M227.40 485.66h9" stroke="#56216c" stroke-width="1.4" fill="none"/>
<circle cx="227.90" cy="476.40" r="1.7" fill="#56216c"/>
<circle cx="233.90" cy="477.17" r="1.7" fill="#56216c"/>
<circle cx="226.90" cy="486.05" r="1.7" fill="#56216c"/>
<circle cx="231.90" cy="486.05" r="1.7" fill="#56216c"/>
<circle cx="236.90" cy="485.66" r="1.7" fill="#56216c"/>
<circle cx="231.90" cy="482.58" r="1.7" fill="#56216c"/>
<rect x="247.25" y="473.31" width="15.5" height="99.59" fill="#98d8a2" stroke="#86cc92" stroke-width="0.8"/>
<path d="M250.50 470.22h9M255.00 470.22V476.40M250.50 476.40h9" stroke="#3cb44a" stroke-width="1.4" fill="none"/>
<circle cx="250.00" cy="468.68" r="1.7" fill="#3cb44a"/>
<circle cx="255.00" cy="470.22" r="1.7" fill="#3cb44a"/>
<circle cx="260.00" cy="468.68" r="1.7" fill="#3cb44a"/>
<circle cx="250.00" cy="475.63" r="1.7" fill="#3cb44a"/>
<circle cx="255.00" cy="476.40" r="1.7" fill="#3cb44a"/>
<circle cx="260.00" cy="474.47" r="1.7" fill="#3cb44a"/>
<line x1="193.0" y1="454.1" x2="193.0" y2="572.9" stroke="#231f20" stroke-width="1.8"/>
<line x1="188.5" y1="572.90" x2="193.0" y2="572.90" stroke="#231f20" stroke-width="1.3"/>
<text x="185.70" y="575.70" font-size="9.2" text-anchor="end" >0</text>
<line x1="188.5" y1="534.30" x2="193.0" y2="534.30" stroke="#231f20" stroke-width="1.3"/>
<text x="185.70" y="537.10" font-size="9.2" text-anchor="end" >10</text>
<line x1="188.5" y1="495.70" x2="193.0" y2="495.70" stroke="#231f20" stroke-width="1.3"/>
<text x="185.70" y="498.50" font-size="9.2" text-anchor="end" >20</text>
<line x1="188.5" y1="457.10" x2="193.0" y2="457.10" stroke="#231f20" stroke-width="1.3"/>
<text x="185.70" y="459.90" font-size="9.2" text-anchor="end" >30</text>
<g transform="translate(169.00,515.00) rotate(-90) scale(0.69,1)"><text x="0" y="0" font-size="11" text-anchor="middle" style="stroke-width:0.45">Mouse weight (g)</text></g>
<line x1="190.5" y1="572.9" x2="270" y2="572.9" stroke="#231f20" stroke-width="1.8"/>
<line x1="208.7" y1="572.9" x2="208.7" y2="577.4" stroke="#231f20" stroke-width="1.3"/>
<g transform="translate(209.60,583.90) rotate(-45)"><text x="0" y="0" font-size="8.3" text-anchor="end" style="stroke-width:0.38">Control</text></g>
<line x1="231.9" y1="572.9" x2="231.9" y2="577.4" stroke="#231f20" stroke-width="1.3"/>
<g transform="translate(232.80,583.90) rotate(-45)"><text x="0" y="0" font-size="8.3" text-anchor="end" style="stroke-width:0.38">RTM+DOX</text></g>
<line x1="255.0" y1="572.9" x2="255.0" y2="577.4" stroke="#231f20" stroke-width="1.3"/>
<g transform="translate(255.90,583.90) rotate(-45)"><text x="0" y="0" font-size="8.3" text-anchor="end" style="stroke-width:0.38">RTD</text></g>
<path d="M230.30 465.90h0M233.50 465.90h0" stroke="#231f20" stroke-width="2.0" stroke-linecap="round" fill="none"/>
<text x="255.00" y="462.00" font-size="8.5" text-anchor="middle" style="stroke-width:0.05">ns</text>
<line x1="328.75" y1="454" x2="328.75" y2="578" stroke="#231f20" stroke-width="1.8"/>
<line x1="324.25" y1="578.00" x2="328.75" y2="578.00" stroke="#231f20" stroke-width="1.3"/>
<text x="319.95" y="580.80" font-size="9.2" text-anchor="end" >0</text>
<line x1="324.25" y1="547.75" x2="328.75" y2="547.75" stroke="#231f20" stroke-width="1.3"/>
<text x="319.95" y="550.55" font-size="9.2" text-anchor="end" >10</text>
<line x1="324.25" y1="517.50" x2="328.75" y2="517.50" stroke="#231f20" stroke-width="1.3"/>
<text x="319.95" y="520.30" font-size="9.2" text-anchor="end" >20</text>
<line x1="324.25" y1="487.25" x2="328.75" y2="487.25" stroke="#231f20" stroke-width="1.3"/>
<text x="319.95" y="490.05" font-size="9.2" text-anchor="end" >30</text>
<line x1="324.25" y1="457.00" x2="328.75" y2="457.00" stroke="#231f20" stroke-width="1.3"/>
<text x="319.95" y="459.80" font-size="9.2" text-anchor="end" >40</text>
<g transform="translate(305.25,517.50) rotate(-90) scale(0.69,1)"><text x="0" y="0" font-size="11" text-anchor="middle" style="stroke-width:0.45">Tumor volume (mm<tspan font-size="6.5" dy="-4">3</tspan><tspan dy="4">)</tspan></text></g>
<line x1="326.25" y1="578" x2="511.5" y2="578" stroke="#231f20" stroke-width="1.8"/>
<line x1="347" y1="578" x2="347" y2="582.5" stroke="#231f20" stroke-width="1.3"/>
<text x="347.00" y="594.50" font-size="9.2" text-anchor="middle" >0</text>
<line x1="383.3" y1="578" x2="383.3" y2="582.5" stroke="#231f20" stroke-width="1.3"/>
<text x="383.30" y="594.50" font-size="9.2" text-anchor="middle" >5</text>
<line x1="419.7" y1="578" x2="419.7" y2="582.5" stroke="#231f20" stroke-width="1.3"/>
<text x="419.70" y="594.50" font-size="9.2" text-anchor="middle" >15</text>
<line x1="456" y1="578" x2="456" y2="582.5" stroke="#231f20" stroke-width="1.3"/>
<text x="456.00" y="594.50" font-size="9.2" text-anchor="middle" >20</text>
<line x1="492.3" y1="578" x2="492.3" y2="582.5" stroke="#231f20" stroke-width="1.3"/>
<text x="492.30" y="594.50" font-size="9.2" text-anchor="middle" >25</text>
<g transform="translate(419.7,611.00) scale(0.78,1)"><text x="0" y="0" font-size="11" text-anchor="middle" style="stroke-width:0.45">Day</text></g>
<polyline points="347.00,566.50 383.30,568.32 419.70,568.32 456.00,569.23 492.30,569.83" fill="none" stroke="#3cb44a" stroke-width="1.7"/>
<circle cx="347.00" cy="566.50" r="2.5" fill="#3cb44a"/>
<circle cx="383.30" cy="568.32" r="2.5" fill="#3cb44a"/>
<circle cx="419.70" cy="568.32" r="2.5" fill="#3cb44a"/>
<circle cx="456.00" cy="569.23" r="2.5" fill="#3cb44a"/>
<circle cx="492.30" cy="569.83" r="2.5" fill="#3cb44a"/>
<polyline points="347.00,564.69 383.30,566.20 419.70,567.11 456.00,568.62 492.30,569.53" fill="none" stroke="#3cb44a" stroke-width="1.7"/>
<circle cx="347.00" cy="564.69" r="2.5" fill="#3cb44a"/>
<circle cx="383.30" cy="566.20" r="2.5" fill="#3cb44a"/>
<circle cx="419.70" cy="567.11" r="2.5" fill="#3cb44a"/>
<circle cx="456.00" cy="568.62" r="2.5" fill="#3cb44a"/>
<circle cx="492.30" cy="569.53" r="2.5" fill="#3cb44a"/>
<polyline points="347.00,564.09 383.30,567.41 419.70,568.02 456.00,570.74 492.30,573.16" fill="none" stroke="#3cb44a" stroke-width="1.7"/>
<circle cx="347.00" cy="564.09" r="2.5" fill="#3cb44a"/>
<circle cx="383.30" cy="567.41" r="2.5" fill="#3cb44a"/>
<circle cx="419.70" cy="568.02" r="2.5" fill="#3cb44a"/>
<circle cx="456.00" cy="570.74" r="2.5" fill="#3cb44a"/>
<circle cx="492.30" cy="573.16" r="2.5" fill="#3cb44a"/>
<polyline points="347.00,567.11 383.30,568.92 419.70,568.92 456.00,571.35 492.30,574.07" fill="none" stroke="#3cb44a" stroke-width="1.7"/>
<circle cx="347.00" cy="567.11" r="2.5" fill="#3cb44a"/>
<circle cx="383.30" cy="568.92" r="2.5" fill="#3cb44a"/>
<circle cx="419.70" cy="568.92" r="2.5" fill="#3cb44a"/>
<circle cx="456.00" cy="571.35" r="2.5" fill="#3cb44a"/>
<circle cx="492.30" cy="574.07" r="2.5" fill="#3cb44a"/>
<polyline points="347.00,558.34 383.30,557.73 419.70,556.52 456.00,552.89 492.30,551.38" fill="none" stroke="#56216c" stroke-width="1.7"/>
<circle cx="347.00" cy="558.34" r="2.5" fill="#56216c"/>
<circle cx="383.30" cy="557.73" r="2.5" fill="#56216c"/>
<circle cx="419.70" cy="556.52" r="2.5" fill="#56216c"/>
<circle cx="456.00" cy="552.89" r="2.5" fill="#56216c"/>
<circle cx="492.30" cy="551.38" r="2.5" fill="#56216c"/>
<polyline points="347.00,561.36 383.30,559.85 419.70,556.83 456.00,553.80 492.30,551.99" fill="none" stroke="#56216c" stroke-width="1.7"/>
<circle cx="347.00" cy="561.36" r="2.5" fill="#56216c"/>
<circle cx="383.30" cy="559.85" r="2.5" fill="#56216c"/>
<circle cx="419.70" cy="556.83" r="2.5" fill="#56216c"/>
<circle cx="456.00" cy="553.80" r="2.5" fill="#56216c"/>
<circle cx="492.30" cy="551.99" r="2.5" fill="#56216c"/>
<polyline points="347.00,564.39 383.30,563.48 419.70,563.78 456.00,571.50 492.30,554.71" fill="none" stroke="#56216c" stroke-width="1.7"/>
<circle cx="347.00" cy="564.39" r="2.5" fill="#56216c"/>
<circle cx="383.30" cy="563.48" r="2.5" fill="#56216c"/>
<circle cx="419.70" cy="563.78" r="2.5" fill="#56216c"/>
<circle cx="456.00" cy="571.50" r="2.5" fill="#56216c"/>
<circle cx="492.30" cy="554.71" r="2.5" fill="#56216c"/>
<polyline points="347.00,567.41 383.30,565.29 419.70,563.78 456.00,563.78 492.30,562.72" fill="none" stroke="#56216c" stroke-width="1.7"/>
<circle cx="347.00" cy="567.41" r="2.5" fill="#56216c"/>
<circle cx="383.30" cy="565.29" r="2.5" fill="#56216c"/>
<circle cx="419.70" cy="563.78" r="2.5" fill="#56216c"/>
<circle cx="456.00" cy="563.78" r="2.5" fill="#56216c"/>
<circle cx="492.30" cy="562.72" r="2.5" fill="#56216c"/>
<polyline points="347.00,565.90 383.30,564.39 419.70,564.09 456.00,562.88 492.30,563.48" fill="none" stroke="#56216c" stroke-width="1.7"/>
<circle cx="347.00" cy="565.90" r="2.5" fill="#56216c"/>
<circle cx="383.30" cy="564.39" r="2.5" fill="#56216c"/>
<circle cx="419.70" cy="564.09" r="2.5" fill="#56216c"/>
<circle cx="456.00" cy="562.88" r="2.5" fill="#56216c"/>
<circle cx="492.30" cy="563.48" r="2.5" fill="#56216c"/>
<polyline points="347.00,559.85 383.30,543.82 419.70,521.43 456.00,500.86 492.30,465.17" fill="none" stroke="#194e81" stroke-width="1.7"/>
<circle cx="347.00" cy="559.85" r="2.5" fill="#194e81"/>
<circle cx="383.30" cy="543.82" r="2.5" fill="#194e81"/>
<circle cx="419.70" cy="521.43" r="2.5" fill="#194e81"/>
<circle cx="456.00" cy="500.86" r="2.5" fill="#194e81"/>
<circle cx="492.30" cy="465.17" r="2.5" fill="#194e81"/>
<polyline points="347.00,561.36 383.30,551.38 419.70,535.35 456.00,516.89 492.30,488.16" fill="none" stroke="#194e81" stroke-width="1.7"/>
<circle cx="347.00" cy="561.36" r="2.5" fill="#194e81"/>
<circle cx="383.30" cy="551.38" r="2.5" fill="#194e81"/>
<circle cx="419.70" cy="535.35" r="2.5" fill="#194e81"/>
<circle cx="456.00" cy="516.89" r="2.5" fill="#194e81"/>
<circle cx="492.30" cy="488.16" r="2.5" fill="#194e81"/>
<polyline points="347.00,562.88 383.30,555.31 419.70,538.67 456.00,521.43 492.30,491.49" fill="none" stroke="#194e81" stroke-width="1.7"/>
<circle cx="347.00" cy="562.88" r="2.5" fill="#194e81"/>
<circle cx="383.30" cy="555.31" r="2.5" fill="#194e81"/>
<circle cx="419.70" cy="538.67" r="2.5" fill="#194e81"/>
<circle cx="456.00" cy="521.43" r="2.5" fill="#194e81"/>
<circle cx="492.30" cy="491.49" r="2.5" fill="#194e81"/>
<polyline points="347.00,564.39 383.30,558.34 419.70,546.84 456.00,525.06 492.30,498.44" fill="none" stroke="#194e81" stroke-width="1.7"/>
<circle cx="347.00" cy="564.39" r="2.5" fill="#194e81"/>
<circle cx="383.30" cy="558.34" r="2.5" fill="#194e81"/>
<circle cx="419.70" cy="546.84" r="2.5" fill="#194e81"/>
<circle cx="456.00" cy="525.06" r="2.5" fill="#194e81"/>
<circle cx="492.30" cy="498.44" r="2.5" fill="#194e81"/>
<polyline points="347.00,565.29 383.30,560.46 419.70,553.80 456.00,527.18 492.30,502.38" fill="none" stroke="#194e81" stroke-width="1.7"/>
<circle cx="347.00" cy="565.29" r="2.5" fill="#194e81"/>
<circle cx="383.30" cy="560.46" r="2.5" fill="#194e81"/>
<circle cx="419.70" cy="553.80" r="2.5" fill="#194e81"/>
<circle cx="456.00" cy="527.18" r="2.5" fill="#194e81"/>
<circle cx="492.30" cy="502.38" r="2.5" fill="#194e81"/>
<polyline points="347.00,566.50 383.30,561.36 419.70,556.83 456.00,535.35 492.30,512.36" fill="none" stroke="#194e81" stroke-width="1.7"/>
<circle cx="347.00" cy="566.50" r="2.5" fill="#194e81"/>
<circle cx="383.30" cy="561.36" r="2.5" fill="#194e81"/>
<circle cx="419.70" cy="556.83" r="2.5" fill="#194e81"/>
<circle cx="456.00" cy="535.35" r="2.5" fill="#194e81"/>
<circle cx="492.30" cy="512.36" r="2.5" fill="#194e81"/>
<path d="M499 558.7h11.5" stroke="#56216c" stroke-width="1.5" stroke-dasharray="1.5,1.5" fill="none"/><path d="M499 571.2h11.5" stroke="#3cb44a" stroke-width="1.5" stroke-dasharray="1.5,1.5" fill="none"/>
<line x1="172" y1="626.3" x2="191" y2="626.3" stroke="#194e81" stroke-width="1.8"/>
<circle cx="181.5" cy="626.3" r="2.9" fill="#194e81"/>
<text x="195.50" y="629.30" font-size="8.2" text-anchor="start" >Control</text>
<line x1="241" y1="626.3" x2="260" y2="626.3" stroke="#56216c" stroke-width="1.8"/>
<circle cx="250.5" cy="626.3" r="2.9" fill="#56216c"/>
<text x="264.50" y="629.30" font-size="8.2" text-anchor="start" >RTM+DOX</text>
<line x1="324" y1="626.3" x2="343" y2="626.3" stroke="#3cb44a" stroke-width="1.8"/>
<circle cx="333.5" cy="626.3" r="2.9" fill="#3cb44a"/>
<text x="347.50" y="629.30" font-size="8.2" text-anchor="start" >RTD</text>
<text x="8.2" y="663.6" font-size="15.3" font-weight="bold" stroke="#231f20" style="stroke-width:0.9">D</text>
<text x="94.67" y="663.50" font-size="8.2" text-anchor="middle" >DLBCL1</text>
<text x="156.90" y="663.50" font-size="8.2" text-anchor="middle" >DLBCL2</text>
<text x="219.15" y="663.50" font-size="8.2" text-anchor="middle" >DLBCL3</text>
<text x="59.50" y="703.85" font-size="8.2" text-anchor="end" >Control</text>
<text x="59.50" y="765.85" font-size="8.2" text-anchor="end" >RTM+DOX</text>
<text x="59.50" y="828.10" font-size="8.2" text-anchor="end" >RTD</text>
<defs><filter id="t00" x="0" y="0" width="1" height="1" color-interpolation-filters="sRGB"><feFlood flood-color="#f9f6f7" result="bg"/><feTurbulence type="fractalNoise" baseFrequency="0.3" numOctaves="4" seed="3" result="n"/><feColorMatrix in="n" type="matrix" values="0 0 0 0 0.64 0 0 0 0 0.4 0 0 0 0 0.4 1.8 0 0 0 -0.86" result="br0"/><feTurbulence type="fractalNoise" baseFrequency="0.06" numOctaves="2" seed="23" result="nl"/><feColorMatrix in="nl" type="matrix" values="0 0 0 0 0 0 0 0 0 0 0 0 0 0 0 4.5 0 0 0 -1.4" result="ml"/><feComposite in="br0" in2="ml" operator="in" result="br"/><feTurbulence type="fractalNoise" baseFrequency="0.24" numOctaves="4" seed="10" result="n2"/><feColorMatrix in="n2" type="matrix" values="0 0 0 0 0.54 0 0 0 0 0.5 0 0 0 0 0.72 0 1.4 0 0 -0.78" result="pu"/><feMerge><feMergeNode in="bg"/><feMergeNode in="pu"/><feMergeNode in="br"/></feMerge><feGaussianBlur stdDeviation="0.8"/></filter><filter id="t01" x="0" y="0" width="1" height="1" color-interpolation-filters="sRGB"><feFlood flood-color="#f8f4f5" result="bg"/><feTurbulence type="fractalNoise" baseFrequency="0.3" numOctaves="4" seed="4" result="n"/><feColorMatrix in="n" type="matrix" values="0 0 0 0 0.64 0 0 0 0 0.4 0 0 0 0 0.4 2.4 0 0 0 -1.02" result="br0"/><feTurbulence type="fractalNoise" baseFrequency="0.06" numOctaves="2" seed="24" result="nl"/><feColorMatrix in="nl" type="matrix" values="0 0 0 0 0 0 0 0 0 0 0 0 0 0 0 4.5 0 0 0 -1.0" result="ml"/><feComposite in="br0" in2="ml" operator="in" result="br"/><feTurbulence type="fractalNoise" baseFrequency="0.24" numOctaves="4" seed="11" result="n2"/><feColorMatrix in="n2" type="matrix" values="0 0 0 0 0.54 0 0 0 0 0.5 0 0 0 0 0.72 0 1.4 0 0 -0.78" result="pu"/><feMerge><feMergeNode in="bg"/><feMergeNode in="pu"/><feMergeNode in="br"/></feMerge><feGaussianBlur stdDeviation="0.8"/></filter><filter id="t02" x="0" y="0" width="1" height="1" color-interpolation-filters="sRGB"><feFlood flood-color="#f4eded" result="bg"/><feTurbulence type="fractalNoise" baseFrequency="0.3" numOctaves="4" seed="5" result="n"/><feColorMatrix in="n" type="matrix" values="0 0 0 0 0.64 0 0 0 0 0.4 0 0 0 0 0.4 3.0 0 0 0 -1.12" result="br0"/><feTurbulence type="fractalNoise" baseFrequency="0.06" numOctaves="2" seed="25" result="nl"/><feColorMatrix in="nl" type="matrix" values="0 0 0 0 0 0 0 0 0 0 0 0 0 0 0 3.5 0 0 0 -0.3" result="ml"/><feComposite in="br0" in2="ml" operator="in" result="br"/><feTurbulence type="fractalNoise" baseFrequency="0.24" numOctaves="4" seed="12" result="n2"/><feColorMatrix in="n2" type="matrix" values="0 0 0 0 0.54 0 0 0 0 0.5 0 0 0 0 0.72 0 1.4 0 0 -0.72" result="pu"/><feMerge><feMergeNode in="bg"/><feMergeNode in="pu"/><feMergeNode in="br"/></feMerge><feGaussianBlur stdDeviation="0.8"/></filter><filter id="t10" x="0" y="0" width="1" height="1" color-interpolation-filters="sRGB"><feFlood flood-color="#f8f5f7" result="bg"/><feTurbulence type="fractalNoise" baseFrequency="0.3" numOctaves="4" seed="6" result="n"/><feColorMatrix in="n" type="matrix" values="0 0 0 0 0.64 0 0 0 0 0.4 0 0 0 0 0.4 1.8 0 0 0 -0.86" result="br0"/><feTurbulence type="fractalNoise" baseFrequency="0.06" numOctaves="2" seed="26" result="nl"/><feColorMatrix in="nl" type="matrix" values="0 0 0 0 0 0 0 0 0 0 0 0 0 0 0 4.5 0 0 0 -1.3" result="ml"/><feComposite in="br0" in2="ml" operator="in" result="br"/><feTurbulence type="fractalNoise" baseFrequency="0.24" numOctaves="4" seed="13" result="n2"/><feColorMatrix in="n2" type="matrix" values="0 0 0 0 0.54 0 0 0 0 0.5 0 0 0 0 0.72 0 1.8 0 0 -0.95" result="pu"/><feMerge><feMergeNode in="bg"/><feMergeNode in="pu"/><feMergeNode in="br"/></feMerge><feGaussianBlur stdDeviation="0.8"/></filter><filter id="t11" x="0" y="0" width="1" height="1" color-interpolation-filters="sRGB"><feFlood flood-color="#f9f7f8" result="bg"/><feTurbulence type="fractalNoise" baseFrequency="0.3" numOctaves="4" seed="7" result="n"/><feColorMatrix in="n" type="matrix" values="0 0 0 0 0.64 0 0 0 0 0.4 0 0 0 0 0.4 1.5 0 0 0 -0.7" result="br0"/><feTurbulence type="fractalNoise" baseFrequency="0.06" numOctaves="2" seed="27" result="nl"/><feColorMatrix in="nl" type="matrix" values="0 0 0 0 0 0 0 0 0 0 0 0 0 0 0 4.0 0 0 0 -1.1" result="ml"/><feComposite in="br0" in2="ml" operator="in" result="br"/><feTurbulence type="fractalNoise" baseFrequency="0.24" numOctaves="4" seed="14" result="n2"/><feColorMatrix in="n2" type="matrix" values="0 0 0 0 0.54 0 0 0 0 0.5 0 0 0 0 0.72 0 1.3 0 0 -0.72" result="pu"/><feMerge><feMergeNode in="bg"/><feMergeNode in="pu"/><feMergeNode in="br"/></feMerge><feGaussianBlur stdDeviation="0.8"/></filter><filter id="t12" x="0" y="0" width="1" height="1" color-interpolation-filters="sRGB"><feFlood flood-color="#f4eded" result="bg"/><feTurbulence type="fractalNoise" baseFrequency="0.3" numOctaves="4" seed="8" result="n"/><feColorMatrix in="n" type="matrix" values="0 0 0 0 0.64 0 0 0 0 0.4 0 0 0 0 0.4 3.0 0 0 0 -1.14" result="br0"/><feTurbulence type="fractalNoise" baseFrequency="0.06" numOctaves="2" seed="28" result="nl"/><feColorMatrix in="nl" type="matrix" values="0 0 0 0 0 0 0 0 0 0 0 0 0 0 0 3.5 0 0 0 -0.3" result="ml"/><feComposite in="br0" in2="ml" operator="in" result="br"/><feTurbulence type="fractalNoise" baseFrequency="0.24" numOctaves="4" seed="15" result="n2"/><feColorMatrix in="n2" type="matrix" values="0 0 0 0 0.54 0 0 0 0 0.5 0 0 0 0 0.72 0 1.4 0 0 -0.72" result="pu"/><feMerge><feMergeNode in="bg"/><feMergeNode in="pu"/><feMergeNode in="br"/></feMerge><feGaussianBlur stdDeviation="0.8"/></filter><filter id="t20" x="0" y="0" width="1" height="1" color-interpolation-filters="sRGB"><feFlood flood-color="#f8f6f8" result="bg"/><feTurbulence type="fractalNoise" baseFrequency="0.3" numOctaves="4" seed="9" result="n"/><feColorMatrix in="n" type="matrix" values="0 0 0 0 0.64 0 0 0 0 0.4 0 0 0 0 0.4 1.0 0 0 0 -0.52" result="br0"/><feTurbulence type="fractalNoise" baseFrequency="0.06" numOctaves="2" seed="29" result="nl"/><feColorMatrix in="nl" type="matrix" values="0 0 0 0 0 0 0 0 0 0 0 0 0 0 0 4.0 0 0 0 -1.0" result="ml"/><feComposite in="br0" in2="ml" operator="in" result="br"/><feTurbulence type="fractalNoise" baseFrequency="0.24" numOctaves="4" seed="16" result="n2"/><feColorMatrix in="n2" type="matrix" values="0 0 0 0 0.54 0 0 0 0 0.5 0 0 0 0 0.72 0 2.0 0 0 -1.0" result="pu"/><feMerge><feMergeNode in="bg"/><feMergeNode in="pu"/><feMergeNode in="br"/></feMerge><feGaussianBlur stdDeviation="0.8"/></filter><filter id="t21" x="0" y="0" width="1" height="1" color-interpolation-filters="sRGB"><feFlood flood-color="#faf9fa" result="bg"/><feTurbulence type="fractalNoise" baseFrequency="0.3" numOctaves="4" seed="10" result="n"/><feColorMatrix in="n" type="matrix" values="0 0 0 0 0.64 0 0 0 0 0.4 0 0 0 0 0.4 0.8 0 0 0 -0.44" result="br0"/><feTurbulence type="fractalNoise" baseFrequency="0.06" numOctaves="2" seed="30" result="nl"/><feColorMatrix in="nl" type="matrix" values="0 0 0 0 0 0 0 0 0 0 0 0 0 0 0 4.0 0 0 0 -1.0" result="ml"/><feComposite in="br0" in2="ml" operator="in" result="br"/><feTurbulence type="fractalNoise" baseFrequency="0.24" numOctaves="4" seed="17" result="n2"/><feColorMatrix in="n2" type="matrix" values="0 0 0 0 0.54 0 0 0 0 0.5 0 0 0 0 0.72 0 1.5 0 0 -0.82" result="pu"/><feMerge><feMergeNode in="bg"/><feMergeNode in="pu"/><feMergeNode in="br"/></feMerge><feGaussianBlur stdDeviation="0.8"/></filter><filter id="t22" x="0" y="0" width="1" height="1" color-interpolation-filters="sRGB"><feFlood flood-color="#f9f7f9" result="bg"/><feTurbulence type="fractalNoise" baseFrequency="0.3" numOctaves="4" seed="11" result="n"/><feColorMatrix in="n" type="matrix" values="0 0 0 0 0.64 0 0 0 0 0.4 0 0 0 0 0.4 1.0 0 0 0 -0.52" result="br0"/><feTurbulence type="fractalNoise" baseFrequency="0.06" numOctaves="2" seed="31" result="nl"/><feColorMatrix in="nl" type="matrix" values="0 0 0 0 0 0 0 0 0 0 0 0 0 0 0 4.0 0 0 0 -1.0" result="ml"/><feComposite in="br0" in2="ml" operator="in" result="br"/><feTurbulence type="fractalNoise" baseFrequency="0.24" numOctaves="4" seed="18" result="n2"/><feColorMatrix in="n2" type="matrix" values="0 0 0 0 0.54 0 0 0 0 0.5 0 0 0 0 0.72 0 1.8 0 0 -0.94" result="pu"/><feMerge><feMergeNode in="bg"/><feMergeNode in="pu"/><feMergeNode in="br"/></feMerge><feGaussianBlur stdDeviation="0.8"/></filter><linearGradient id="lgv" x1="0" y1="0" x2="0" y2="1"><stop offset="0.15" stop-color="#fff" stop-opacity="0"/><stop offset="0.7" stop-color="#fff" stop-opacity="0.6"/></linearGradient><linearGradient id="lgr" x1="0" y1="1" x2="1" y2="0"><stop offset="0.35" stop-color="#fff" stop-opacity="0"/><stop offset="1" stop-color="#fff" stop-opacity="0.75"/></linearGradient><linearGradient id="lgt" x1="0" y1="0" x2="1" y2="0.4"><stop offset="0" stop-color="#fff" stop-opacity="0.15"/><stop offset="0.6" stop-color="#fff" stop-opacity="0"/><stop offset="1" stop-color="#e0dcf0" stop-opacity="0.25"/></linearGradient></defs>
<rect x="63.8" y="669.9" width="61.8" height="61.9" filter="url(#t00)"/>
<rect x="112.6" y="724.5" width="8" height="2" fill="#111"/>
<rect x="125.6" y="669.9" width="62.6" height="61.9" filter="url(#t01)"/>
<rect x="125.6" y="669.9" width="62.6" height="61.9" fill="url(#lgv)"/>
<rect x="175.2" y="724.5" width="8" height="2" fill="#111"/>
<rect x="188.2" y="669.9" width="61.9" height="61.9" filter="url(#t02)"/>
<rect x="188.2" y="669.9" width="61.9" height="61.9" fill="url(#lgt)"/>
<rect x="237.1" y="724.5" width="8" height="2" fill="#111"/>
<rect x="63.8" y="731.8" width="61.8" height="62.1" filter="url(#t10)"/>
<rect x="112.6" y="786.6" width="8" height="2" fill="#111"/>
<rect x="125.6" y="731.8" width="62.6" height="62.1" filter="url(#t11)"/>
<rect x="175.2" y="786.6" width="8" height="2" fill="#111"/>
<rect x="188.2" y="731.8" width="61.9" height="62.1" filter="url(#t12)"/>
<rect x="188.2" y="731.8" width="61.9" height="62.1" fill="url(#lgr)"/>
<rect x="237.1" y="786.6" width="8" height="2" fill="#111"/>
<rect x="63.8" y="793.9" width="61.8" height="62.4" filter="url(#t20)"/>
<rect x="112.6" y="849.0" width="8" height="2" fill="#111"/>
<rect x="125.6" y="793.9" width="62.6" height="62.4" filter="url(#t21)"/>
<rect x="175.2" y="849.0" width="8" height="2" fill="#111"/>
<rect x="188.2" y="793.9" width="61.9" height="62.4" filter="url(#t22)"/>
<rect x="237.1" y="849.0" width="8" height="2" fill="#111"/>
<line x1="63.75" y1="668.9" x2="63.75" y2="857.3" stroke="#111" stroke-width="1.9"/>
<line x1="125.6" y1="668.9" x2="125.6" y2="857.3" stroke="#111" stroke-width="1.9"/>
<line x1="188.2" y1="668.9" x2="188.2" y2="857.3" stroke="#111" stroke-width="1.9"/>
<line x1="250.1" y1="668.9" x2="250.1" y2="857.3" stroke="#111" stroke-width="1.9"/>
<line x1="62.75" y1="669.9" x2="251.1" y2="669.9" stroke="#111" stroke-width="1.9"/>
<line x1="62.75" y1="731.8" x2="251.1" y2="731.8" stroke="#111" stroke-width="1.9"/>
<line x1="62.75" y1="793.9" x2="251.1" y2="793.9" stroke="#111" stroke-width="1.9"/>
<line x1="62.75" y1="856.3" x2="251.1" y2="856.3" stroke="#111" stroke-width="1.9"/>
<text x="270.6" y="663.8" font-size="15.3" font-weight="bold" stroke="#231f20" style="stroke-width:0.9">E</text>
<rect x="316.25" y="762.66" width="9.5" height="52.74" fill="#7ea1c3" stroke="#6d92b7" stroke-width="0.7"/>
<path d="M317.50 750.06h7M321.00 750.06V773.79M317.50 773.79h7" stroke="#194e81" stroke-width="1.4" fill="none"/>
<circle cx="318.00" cy="756.80" r="2.3" fill="#194e81"/>
<circle cx="320.00" cy="756.80" r="2.3" fill="#194e81"/>
<circle cx="322.00" cy="756.80" r="2.3" fill="#194e81"/>
<circle cx="324.00" cy="756.80" r="2.3" fill="#194e81"/>
<circle cx="321.00" cy="786.10" r="2.3" fill="#194e81"/>
<rect x="332.55" y="783.17" width="9.5" height="32.23" fill="#a98cbb" stroke="#9a7cad" stroke-width="0.7"/>
<path d="M333.80 769.40h7M337.30 769.40V792.84M333.80 792.84h7" stroke="#56216c" stroke-width="1.4" fill="none"/>
<circle cx="337.30" cy="756.80" r="2.3" fill="#56216c"/>
<circle cx="334.30" cy="786.10" r="2.3" fill="#56216c"/>
<circle cx="337.30" cy="786.10" r="2.3" fill="#56216c"/>
<circle cx="340.30" cy="786.10" r="2.3" fill="#56216c"/>
<rect x="348.35" y="786.10" width="9.5" height="29.30" fill="#98d8a2" stroke="#86cc92" stroke-width="0.7"/>
<circle cx="350.10" cy="786.10" r="2.3" fill="#3cb44a"/>
<circle cx="352.10" cy="786.10" r="2.3" fill="#3cb44a"/>
<circle cx="354.10" cy="786.10" r="2.3" fill="#3cb44a"/>
<circle cx="356.10" cy="786.10" r="2.3" fill="#3cb44a"/>
<rect x="376.25" y="762.66" width="9.5" height="52.74" fill="#7ea1c3" stroke="#6d92b7" stroke-width="0.7"/>
<path d="M377.50 750.06h7M381.00 750.06V773.79M377.50 773.79h7" stroke="#194e81" stroke-width="1.4" fill="none"/>
<circle cx="378.00" cy="756.80" r="2.3" fill="#194e81"/>
<circle cx="380.00" cy="756.80" r="2.3" fill="#194e81"/>
<circle cx="382.00" cy="756.80" r="2.3" fill="#194e81"/>
<circle cx="384.00" cy="756.80" r="2.3" fill="#194e81"/>
<circle cx="381.00" cy="786.10" r="2.3" fill="#194e81"/>
<rect x="392.55" y="783.17" width="9.5" height="32.23" fill="#a98cbb" stroke="#9a7cad" stroke-width="0.7"/>
<path d="M393.80 769.40h7M397.30 769.40V792.84M393.80 792.84h7" stroke="#56216c" stroke-width="1.4" fill="none"/>
<circle cx="397.30" cy="756.80" r="2.3" fill="#56216c"/>
<circle cx="394.30" cy="786.10" r="2.3" fill="#56216c"/>
<circle cx="397.30" cy="786.10" r="2.3" fill="#56216c"/>
<circle cx="400.30" cy="786.10" r="2.3" fill="#56216c"/>
<rect x="408.35" y="786.10" width="9.5" height="29.30" fill="#98d8a2" stroke="#86cc92" stroke-width="0.7"/>
<circle cx="410.10" cy="786.10" r="2.3" fill="#3cb44a"/>
<circle cx="412.10" cy="786.10" r="2.3" fill="#3cb44a"/>
<circle cx="414.10" cy="786.10" r="2.3" fill="#3cb44a"/>
<circle cx="416.10" cy="786.10" r="2.3" fill="#3cb44a"/>
<rect x="436.45" y="733.95" width="9.5" height="81.45" fill="#7ea1c3" stroke="#6d92b7" stroke-width="0.7"/>
<path d="M437.70 720.18h7M441.20 720.18V743.91M437.70 743.91h7" stroke="#194e81" stroke-width="1.4" fill="none"/>
<circle cx="438.20" cy="727.50" r="2.3" fill="#194e81"/>
<circle cx="440.20" cy="727.50" r="2.3" fill="#194e81"/>
<circle cx="442.20" cy="727.50" r="2.3" fill="#194e81"/>
<circle cx="444.20" cy="727.50" r="2.3" fill="#194e81"/>
<circle cx="441.20" cy="756.80" r="2.3" fill="#194e81"/>
<rect x="452.75" y="756.80" width="9.5" height="58.60" fill="#a98cbb" stroke="#9a7cad" stroke-width="0.7"/>
<path d="M454.00 738.34h7M457.50 738.34V775.26M454.00 775.26h7" stroke="#56216c" stroke-width="1.4" fill="none"/>
<circle cx="457.50" cy="727.50" r="2.3" fill="#56216c"/>
<circle cx="454.50" cy="756.80" r="2.3" fill="#56216c"/>
<circle cx="457.50" cy="756.80" r="2.3" fill="#56216c"/>
<circle cx="460.50" cy="756.80" r="2.3" fill="#56216c"/>
<circle cx="457.50" cy="786.10" r="2.3" fill="#56216c"/>
<rect x="468.55" y="777.90" width="9.5" height="37.50" fill="#98d8a2" stroke="#86cc92" stroke-width="0.7"/>
<path d="M469.80 761.20h7M473.30 761.20V790.50M469.80 790.50h7" stroke="#3cb44a" stroke-width="1.4" fill="none"/>
<circle cx="471.80" cy="756.80" r="2.3" fill="#3cb44a"/>
<circle cx="474.80" cy="756.80" r="2.3" fill="#3cb44a"/>
<circle cx="470.30" cy="786.10" r="2.3" fill="#3cb44a"/>
<circle cx="473.30" cy="786.10" r="2.3" fill="#3cb44a"/>
<circle cx="476.30" cy="786.10" r="2.3" fill="#3cb44a"/>
<path d="M335.70 746.75h0M338.90 746.75h0" stroke="#231f20" stroke-width="2.0" stroke-linecap="round" fill="none"/>
<path d="M351.50 776.05h0M354.70 776.05h0" stroke="#231f20" stroke-width="2.0" stroke-linecap="round" fill="none"/>
<path d="M395.70 746.75h0M398.90 746.75h0" stroke="#231f20" stroke-width="2.0" stroke-linecap="round" fill="none"/>
<path d="M411.50 776.05h0M414.70 776.05h0" stroke="#231f20" stroke-width="2.0" stroke-linecap="round" fill="none"/>
<path d="M457.50 717.45h0" stroke="#231f20" stroke-width="2.0" stroke-linecap="round" fill="none"/>
<path d="M470.10 746.46h0M473.30 746.46h0M476.50 746.46h0" stroke="#231f20" stroke-width="2.0" stroke-linecap="round" fill="none"/>
<line x1="309.6" y1="697.2" x2="309.6" y2="815.4" stroke="#231f20" stroke-width="1.8"/>
<line x1="305.1" y1="815.40" x2="309.6" y2="815.40" stroke="#231f20" stroke-width="1.3"/>
<text x="302.60" y="818.70" font-size="9.2" text-anchor="end" >0</text>
<line x1="305.1" y1="786.10" x2="309.6" y2="786.10" stroke="#231f20" stroke-width="1.3"/>
<text x="302.60" y="789.40" font-size="9.2" text-anchor="end" >1</text>
<line x1="305.1" y1="756.80" x2="309.6" y2="756.80" stroke="#231f20" stroke-width="1.3"/>
<text x="302.60" y="760.10" font-size="9.2" text-anchor="end" >2</text>
<line x1="305.1" y1="727.50" x2="309.6" y2="727.50" stroke="#231f20" stroke-width="1.3"/>
<text x="302.60" y="730.80" font-size="9.2" text-anchor="end" >3</text>
<line x1="305.1" y1="698.20" x2="309.6" y2="698.20" stroke="#231f20" stroke-width="1.3"/>
<text x="302.60" y="701.50" font-size="9.2" text-anchor="end" >4</text>
<g transform="translate(289.60,757.00) rotate(-90) scale(0.72,1)"><text x="0" y="0" font-size="10" text-anchor="middle" style="stroke-width:0.25">Ki67 score</text></g>
<line x1="307.1" y1="815.4" x2="486.5" y2="815.4" stroke="#231f20" stroke-width="1.8"/>
<line x1="337.3" y1="815.4" x2="337.3" y2="819.9" stroke="#231f20" stroke-width="1.3"/>
<text x="337.30" y="830.70" font-size="8.3" text-anchor="middle" >DLBCL1</text>
<line x1="397.3" y1="815.4" x2="397.3" y2="819.9" stroke="#231f20" stroke-width="1.3"/>
<text x="397.30" y="830.70" font-size="8.3" text-anchor="middle" >DLBCL2</text>
<line x1="457.5" y1="815.4" x2="457.5" y2="819.9" stroke="#231f20" stroke-width="1.3"/>
<text x="457.50" y="830.70" font-size="8.3" text-anchor="middle" >DLBCL3</text>
<rect x="0.7" y="0.7" width="518.6" height="864.6" fill="none" stroke="#282828" stroke-width="1.4"/>
</svg>
</body></html>
